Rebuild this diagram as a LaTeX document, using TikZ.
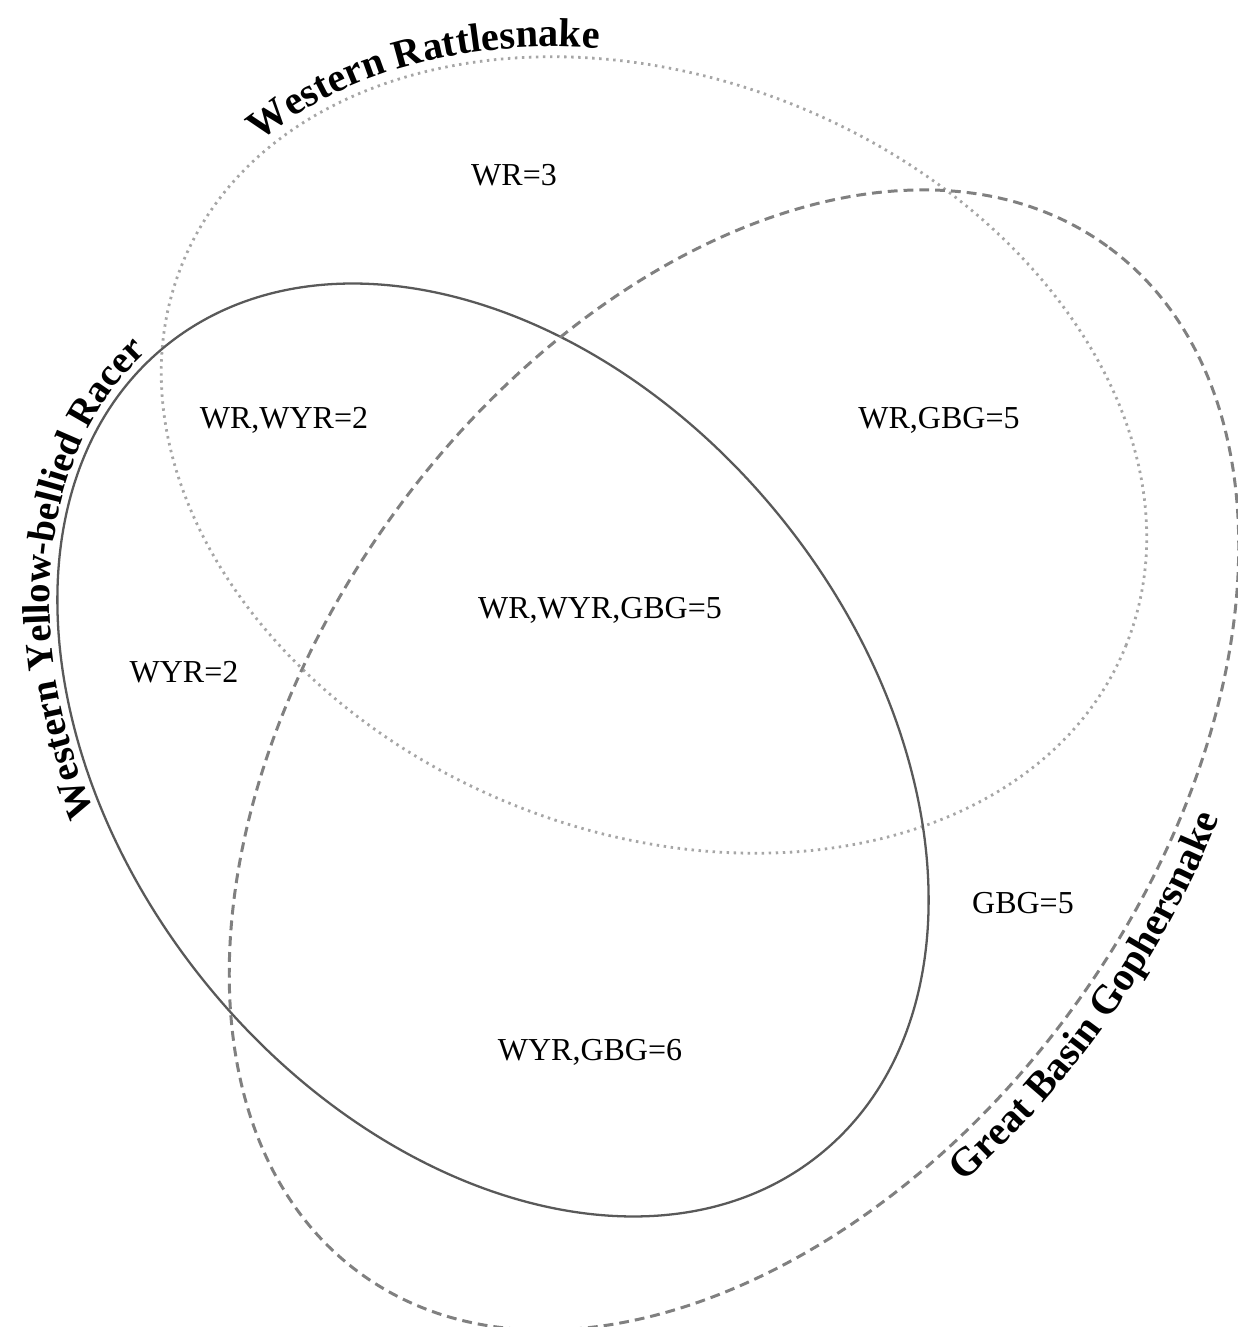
\documentclass[tikz,border=0pt]{standalone}
\usepackage{fontspec}
\setmainfont{Liberation Serif}
\usetikzlibrary{decorations.text}
\def\lbl{\fontsize{9.1}{11}\selectfont}
\def\snk{\bfseries\fontsize{11.5}{13}\selectfont}
\def\snkr{\bfseries\fontsize{11}{13}\selectfont}

\begin{document}
\begin{tikzpicture}[
    wrline/.style={draw=black!35, line width=0.8pt, dash pattern=on 0.7pt off 1.3pt},
    wyrline/.style={draw=black!65, line width=0.65pt},
    gbgline/.style={draw=black!50, line width=0.85pt, dash pattern=on 2.8pt off 1.7pt},
    count/.style={font=\lbl, inner sep=1pt}]
  \useasboundingbox (0,0) rectangle (12.38,13.27);
  \coordinate (wr) at (6.54,8.72);
  \coordinate (wyr) at (4.93,5.77);
  \coordinate (gbg) at (7.34,5.67);

  % Western Rattlesnake
  \begin{scope}[shift={(wr)}, rotate=-22]
    \draw[wrline] (0,0) ellipse [x radius=5.09, y radius=3.77];
    \path[decorate, decoration={text along path, text align=center,
        text={|\snk|Western Rattlesnake}}]
      (166:5.19 and 3.87) arc [start angle=166, end angle=107, x radius=5.19, y radius=3.87];
  \end{scope}

  % Western Yellow-bellied Racer
  \begin{scope}[shift={(wyr)}, rotate=-51]
    \draw[wyrline] (0,0) ellipse [x radius=5.20, y radius=3.70];
    \path[decorate, decoration={text along path, text align=center,
        text={|\snkr|Western Yellow-bellied Racer}}]
      (254:5.28 and 3.78) arc [start angle=254, end angle=174, x radius=5.28, y radius=3.78];
  \end{scope}

  % Great Basin Gophersnake
  \begin{scope}[shift={(gbg)}, rotate=54]
    \draw[gbgline] (0,0) ellipse [x radius=6.35, y radius=4.20];
    \path[decorate, decoration={text along path, text align=center,
        text={|\snk|Great Basin Gophersnake}}]
      (241:6.71 and 4.56) arc [start angle=241, end angle=302, x radius=6.71, y radius=4.56];
  \end{scope}

  \node[count] (nwr) at (5.14,11.52) {WR=3};
  \node[count] (nwrwyr) at (2.84,9.07) {WR,WYR=2};
  \node[count] (nwrgbg) at (9.39,9.07) {WR,GBG=5};
  \node[count] (nall) at (6.00,7.17) {WR,WYR,GBG=5};
  \node[count] (nwyr) at (1.84,6.55) {WYR=2};
  \node[count] (ngbg) at (10.23,4.24) {GBG=5};
  \node[count] (nwyrgbg) at (5.90,2.75) {WYR,GBG=6};
\end{tikzpicture}
\end{document}
